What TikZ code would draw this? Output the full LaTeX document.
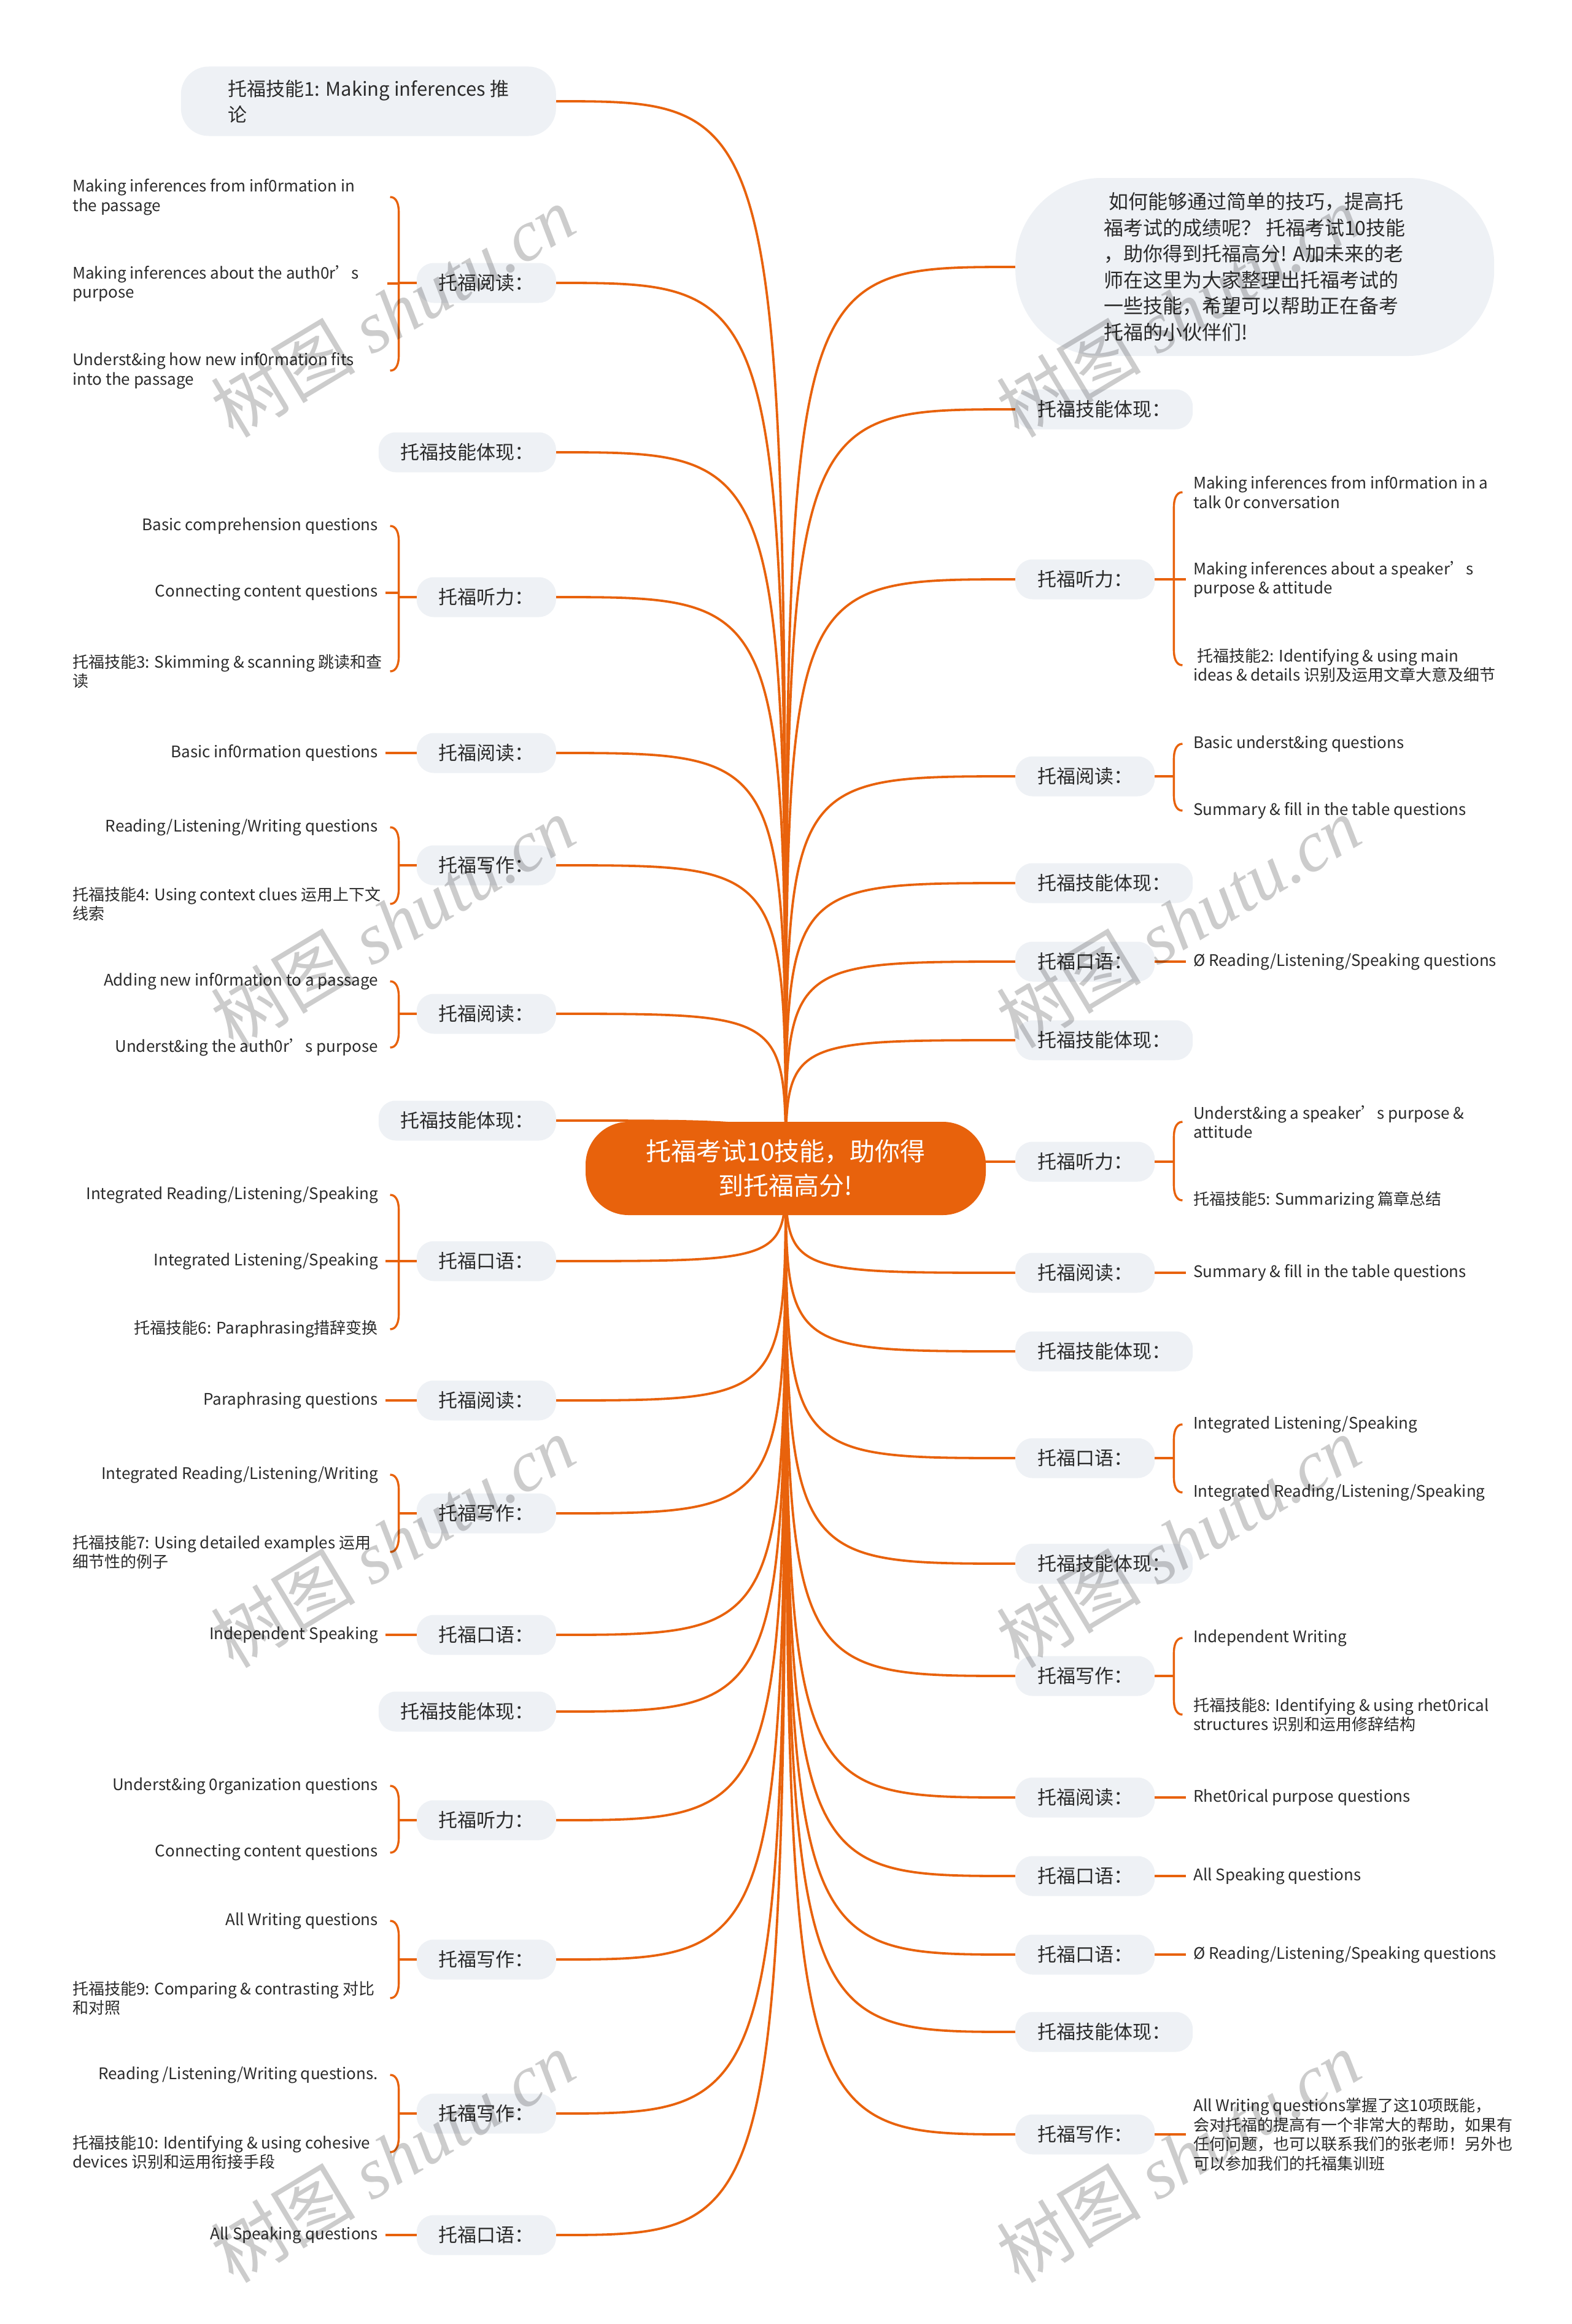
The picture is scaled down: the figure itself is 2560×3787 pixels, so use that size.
\documentclass[tikz,border=0pt]{standalone}
\usepackage{fontspec}
\setmainfont{Noto Sans CJK SC}
\newfontfamily\wmserif{Liberation Serif}
\usetikzlibrary{backgrounds}
\definecolor{orn}{HTML}{E8620C}
\definecolor{nodebg}{HTML}{EEF1F5}
\definecolor{txt}{HTML}{2B2B2B}
\newcommand\brfont{\fontsize{31}{42}\selectfont}
\newcommand\chfont{\fontsize{26}{31.5}\selectfont}
\newcommand\bubfont{\fontsize{32}{42.5}\selectfont}
\newcommand\cenfont{\fontsize{41}{56}\selectfont}
\newcommand\wmfont{\fontsize{118}{118}\selectfont}
\newcommand\lbrk[3]{%
  \draw[sub] (#1.west) -- ++(-29,0) coordinate (#1b);
  \draw[sub] ([xshift=-14pt]#1b |- #2.center) to[out=0,in=90] ([yshift=-24pt]#1b |- #2.center) -- ([yshift=24pt]#1b |- #3.center) to[out=-90,in=0] ([xshift=-14pt]#1b |- #3.center);
}
\newcommand\rbrk[3]{%
  \draw[sub] (#1.east) -- ++(31,0) coordinate (#1b);
  \draw[sub] ([xshift=14pt]#1b |- #2.center) to[out=180,in=90] ([yshift=-24pt]#1b |- #2.center) -- ([yshift=24pt]#1b |- #3.center) to[out=-90,in=180] ([xshift=14pt]#1b |- #3.center);
}
\tikzset{
  br/.style={fill=nodebg, rounded corners=28pt, minimum height=65pt, inner xsep=36pt, inner ysep=0pt, font=\brfont, text=txt},
  lbr/.style={br, anchor=east},
  rbr/.style={br, anchor=west},
  ch/.style={font=\chfont, text=txt, inner xsep=12pt, inner ysep=0pt, align=left},
  lch/.style={ch, anchor=east},
  lchm/.style={ch, anchor=west},
  rch/.style={ch, anchor=west},
  conn/.style={draw=orn, line width=3.8pt},
  sub/.style={draw=orn, line width=3.4pt},
  wm/.style={rotate=31, font=\wmfont, text=black, text opacity=0.2}
}
\begin{document}
\begin{tikzpicture}[x=1pt,y=-1pt]
\useasboundingbox (0,0) rectangle (2560,3787);
% central node
\node[fill=orn, text=white, font=\cenfont, align=center, minimum width=652pt, minimum height=152pt, rounded corners=70pt, inner sep=0pt] (c) at (1280,1904) {托福考试10技能，助你得\\到托福高分!};
% left branches
\node[lbr, align=left, minimum width=611pt, minimum height=113pt, rounded corners=45pt] (L1) at (906,165) {托福技能1: Making inferences 推\\论};
\node[lbr] (L2) at (906,461) {托福阅读：};
\node[lbr] (L3) at (906,737) {托福技能体现：};
\node[lbr] (L4) at (906,973) {托福听力：};
\node[lbr] (L5) at (906,1227) {托福阅读：};
\node[lbr] (L6) at (906,1410) {托福写作：};
\node[lbr] (L7) at (906,1652) {托福阅读：};
\node[lbr] (L8) at (906,1826) {托福技能体现：};
\node[lbr] (L9) at (906,2055) {托福口语：};
\node[lbr] (L10) at (906,2282) {托福阅读：};
\node[lbr] (L11) at (906,2466) {托福写作：};
\node[lbr] (L12) at (906,2664) {托福口语：};
\node[lbr] (L13) at (906,2789) {托福技能体现：};
\node[lbr] (L14) at (906,2966) {托福听力：};
\node[lbr] (L15) at (906,3193) {托福写作：};
\node[lbr] (L16) at (906,3444) {托福写作：};
\node[lbr] (L17) at (906,3642) {托福口语：};
% right branches
\node[rbr, align=left, font=\bubfont, minimum width=780pt, minimum height=290pt, rounded corners=140pt] (R1) at (1654,435) {\ 如何能够通过简单的技巧，提高托\\福考试的成绩呢？ 托福考试10技能\\，助你得到托福高分! A加未来的老\\师在这里为大家整理出托福考试的\\一些技能，希望可以帮助正在备考\\托福的小伙伴们!};
\node[rbr] (R2) at (1654,667) {托福技能体现：};
\node[rbr] (R3) at (1654,944) {托福听力：};
\node[rbr] (R4) at (1654,1265) {托福阅读：};
\node[rbr] (R5) at (1654,1439) {托福技能体现：};
\node[rbr] (R6) at (1654,1567) {托福口语：};
\node[rbr] (R7) at (1654,1695) {托福技能体现：};
\node[rbr] (R8) at (1654,1893) {托福听力：};
\node[rbr] (R9) at (1654,2074) {托福阅读：};
\node[rbr] (R10) at (1654,2202) {托福技能体现：};
\node[rbr] (R11) at (1654,2376) {托福口语：};
\node[rbr] (R12) at (1654,2548) {托福技能体现：};
\node[rbr] (R13) at (1654,2731) {托福写作：};
\node[rbr] (R14) at (1654,2929) {托福阅读：};
\node[rbr] (R15) at (1654,3057) {托福口语：};
\node[rbr] (R16) at (1654,3185) {托福口语：};
\node[rbr] (R17) at (1654,3311) {托福技能体现：};
\node[rbr] (R18) at (1654,3478) {托福写作：};
% left children
\node[lchm] (L2c1) at (106,321) {Making inferences from inf0rmation in\\the passage};
\node[lchm] (L2c2) at (106,462) {Making inferences about the auth0r’s\\purpose};
\node[lchm] (L2c3) at (106,604) {Underst\&ing how new inf0rmation fits\\into the passage};
\node[lch] (L4c1) at (628,857) {Basic comprehension questions};
\node[lch] (L4c2) at (628,966) {Connecting content questions};
\node[lchm] (L4c3) at (106,1094) {托福技能3: Skimming \& scanning 跳读和查\\读};
\node[lch] (L5c) at (628,1227) {Basic inf0rmation questions};
\node[lch] (L6c1) at (628,1348) {Reading/Listening/Writing questions};
\node[lchm] (L6c2) at (106,1473) {托福技能4: Using context clues 运用上下文\\线索};
\node[lch] (L7c1) at (628,1599) {Adding new inf0rmation to a passage};
\node[lch] (L7c2) at (628,1707) {Underst\&ing the auth0r’s purpose};
\node[lch] (L9c1) at (628,1947) {Integrated Reading/Listening/Speaking};
\node[lch] (L9c2) at (628,2055) {Integrated Listening/Speaking};
\node[lch] (L9c3) at (628,2166) {托福技能6: Paraphrasing措辞变换};
\node[lch] (L10c) at (628,2282) {Paraphrasing questions};
\node[lch] (L11c1) at (628,2403) {Integrated Reading/Listening/Writing};
\node[lchm] (L11c2) at (106,2529) {托福技能7: Using detailed examples 运用\\细节性的例子};
\node[lch] (L12c) at (628,2664) {Independent Speaking};
\node[lch] (L14c1) at (628,2910) {Underst\&ing 0rganization questions};
\node[lch] (L14c2) at (628,3019) {Connecting content questions};
\node[lch] (L15c1) at (628,3130) {All Writing questions};
\node[lchm] (L15c2) at (106,3256) {托福技能9: Comparing \& contrasting 对比\\和对照};
\node[lch] (L16c1) at (628,3381) {Reading /Listening/Writing questions.};
\node[lchm] (L16c2) at (106,3507) {托福技能10: Identifying \& using cohesive\\devices 识别和运用衔接手段};
\node[lch] (L17c) at (628,3642) {All Speaking questions};
% right children
\node[rch] (R3c1) at (1932,802) {Making inferences from inf0rmation in a\\talk 0r conversation};
\node[rch] (R3c2) at (1932,944) {Making inferences about a speaker’s\\purpose \& attitude};
\node[rch] (R3c3) at (1932,1084) {\ 托福技能2: Identifying \& using main\\ideas \& details 识别及运用文章大意及细节};
\node[rch] (R4c1) at (1932,1212) {Basic underst\&ing questions};
\node[rch] (R4c2) at (1932,1321) {Summary \& fill in the table questions};
\node[rch] (R6c) at (1932,1567) {Ø Reading/Listening/Speaking questions};
\node[rch] (R8c1) at (1932,1828) {Underst\&ing a speaker’s purpose \&\\attitude};
\node[rch] (R8c2) at (1932,1956) {托福技能5: Summarizing 篇章总结};
\node[rch] (R9c) at (1932,2074) {Summary \& fill in the table questions};
\node[rch] (R11c1) at (1932,2321) {Integrated Listening/Speaking};
\node[rch] (R11c2) at (1932,2432) {Integrated Reading/Listening/Speaking};
\node[rch] (R13c1) at (1932,2669) {Independent Writing};
\node[rch] (R13c2) at (1932,2794) {托福技能8: Identifying \& using rhet0rical\\structures 识别和运用修辞结构};
\node[rch] (R14c) at (1932,2929) {Rhet0rical purpose questions};
\node[rch] (R15c) at (1932,3057) {All Speaking questions};
\node[rch] (R16c) at (1932,3185) {Ø Reading/Listening/Speaking questions};
\node[rch] (R18c) at (1932,3478) {All Writing questions掌握了这10项既能，\\会对托福的提高有一个非常大的帮助，如果有\\任何问题，也可以联系我们的张老师！另外也\\可以参加我们的托福集训班};
% main connectors
\begin{pgfonlayer}{background}
\fill[white] (0,0) rectangle (2560,3787);
\foreach \i in {1,...,17} \draw[conn] (c.center) .. controls (c.center |- L\i.east) .. (L\i.east);
\foreach \i in {1,...,18} \draw[conn] (c.center) .. controls (c.center |- R\i.west) .. (R\i.west);
\end{pgfonlayer}
% left child connectors
\lbrk{L2}{L2c1}{L2c3}
\draw[sub] (L2b |- L2c2.center) -- ([xshift=-19pt]L2b |- L2c2.center);
\lbrk{L4}{L4c1}{L4c3}
\draw[sub] (L4b |- L4c2.center) -- (L4c2.east);
\draw[sub] (L5.west) -- (L5c.east);
\lbrk{L6}{L6c1}{L6c2}
\lbrk{L7}{L7c1}{L7c2}
\lbrk{L9}{L9c1}{L9c3}
\draw[sub] (L9b |- L9c2.center) -- (L9c2.east);
\draw[sub] (L10.west) -- (L10c.east);
\lbrk{L11}{L11c1}{L11c2}
\draw[sub] (L12.west) -- (L12c.east);
\lbrk{L14}{L14c1}{L14c2}
\lbrk{L15}{L15c1}{L15c2}
\lbrk{L16}{L16c1}{L16c2}
\draw[sub] (L17.west) -- (L17c.east);
% right child connectors
\rbrk{R3}{R3c1}{R3c3}
\draw[sub] (R3b |- R3c2.center) -- (R3c2.west);
\rbrk{R4}{R4c1}{R4c2}
\draw[sub] (R6.east) -- (R6c.west);
\rbrk{R8}{R8c1}{R8c2}
\draw[sub] (R9.east) -- (R9c.west);
\rbrk{R11}{R11c1}{R11c2}
\rbrk{R13}{R13c1}{R13c2}
\draw[sub] (R14.east) -- (R14c.west);
\draw[sub] (R15.east) -- (R15c.west);
\draw[sub] (R16.east) -- (R16c.west);
\draw[sub] (R18.east) -- (R18c.west);
% watermarks
\node[wm] (w1) at (640,507) {树图 {\wmserif\itshape shutu.cn}};
\node[wm] (w2) at (640,1502) {树图 {\wmserif\itshape shutu.cn}};
\node[wm] (w3) at (640,2512) {树图 {\wmserif\itshape shutu.cn}};
\node[wm] (w4) at (640,3514) {树图 {\wmserif\itshape shutu.cn}};
\node[wm] (w5) at (1920,507) {树图 {\wmserif\itshape shutu.cn}};
\node[wm] (w6) at (1920,1502) {树图 {\wmserif\itshape shutu.cn}};
\node[wm] (w7) at (1920,2512) {树图 {\wmserif\itshape shutu.cn}};
\node[wm] (w8) at (1920,3514) {树图 {\wmserif\itshape shutu.cn}};
\end{tikzpicture}
\end{document}
